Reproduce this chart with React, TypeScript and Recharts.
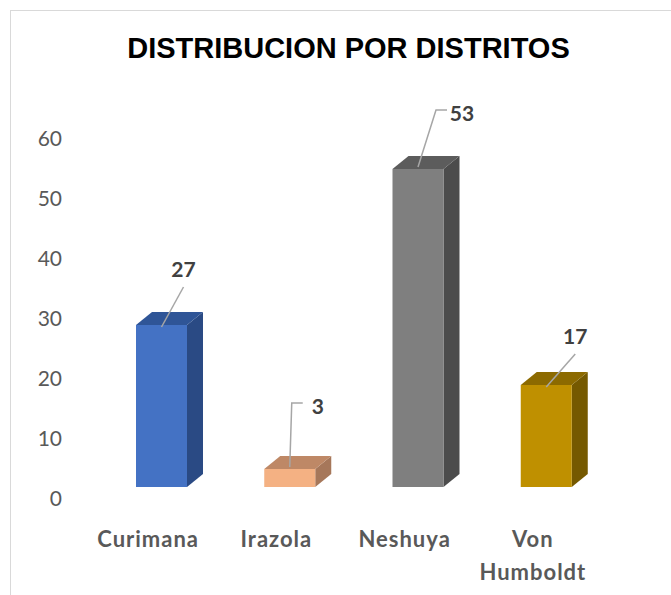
import React from 'react';
import { BarChart, Bar, XAxis, YAxis, Cell, LabelList } from 'recharts';

// Datos
const districts = ['Curimana', 'Irazola', 'Neshuya', 'Von Humboldt'];
const counts = [27, 3, 53, 17];
const yTicks = [0, 10, 20, 30, 40, 50, 60];

// colores: frente, tapa, lado
const frontColors = ['#4472C4', '#F4B183', '#7F7F7F', '#BF9000'];
const topColors = ['#2F5597', '#BE8866', '#5C5C5C', '#8C6A00'];
const sideColors = ['#2A4A84', '#A6775A', '#4C4C4C', '#755900'];

// desplazamiento de las etiquetas respecto a la tapa de la barra
const labelOffsets = [
    { dx: 22, dy: -57, elbow: false },
    { dx: 28, dy: -64, elbow: true },
    { dx: 44, dy: -57, elbow: true },
    { dx: 29, dy: -50, elbow: false },
];

const DEPTH_X = 16;
const DEPTH_Y = 13;
const FONT = 'Lato, "Open Sans", sans-serif';

const chartData = districts.map((name, i) => ({ name, value: counts[i] }));

const Bar3D = (props: any) => {
    const { x, y, width, height, index } = props;
    const w = width;
    const h = height;
    const top = `${x},${y} ${x + DEPTH_X},${y - DEPTH_Y} ${x + w + DEPTH_X},${y - DEPTH_Y} ${x + w},${y}`;
    const side = `${x + w},${y} ${x + w + DEPTH_X},${y - DEPTH_Y} ${x + w + DEPTH_X},${y + h - DEPTH_Y} ${x + w},${y + h}`;
    return (
        <g>
            <polygon points={side} fill={sideColors[index]} />
            <polygon points={top} fill={topColors[index]} />
            <rect x={x} y={y} width={w} height={h} fill={frontColors[index]} />
        </g>
    );
};

const LeaderLabel = (props: any) => {
    const { x, y, width, value, index } = props;
    const off = labelOffsets[index];
    const cx = x + width / 2;
    const lx = cx + off.dx;
    const ly = y + off.dy;
    let path: string;
    if (off.elbow) {
        const hy = ly - 2;
        const leftX = lx - 15;
        const cornerX = leftX - 11;
        path = `M${leftX},${hy} L${cornerX},${hy} L${cx},${y - 2}`;
    } else {
        path = `M${lx},${ly + 19} L${cx},${y + 2}`;
    }
    return (
        <g>
            <path d={path} stroke="#A6A6A6" strokeWidth={1.5} fill="none" />
            <text
                x={lx}
                y={ly}
                textAnchor="middle"
                dominantBaseline="central"
                fontFamily={FONT}
                fontWeight={700}
                fontSize={21}
                fill="#404040"
            >
                {value}
            </text>
        </g>
    );
};

const CategoryTick = (props: any) => {
    const { x, y, payload } = props;
    const words = String(payload.value).split(' ');
    return (
        <g>
            {words.map((wd, i) => (
                <text
                    key={i}
                    x={x - 13}
                    y={y + 43 + i * 33}
                    textAnchor="middle"
                    dominantBaseline="central"
                    fontFamily={FONT}
                    fontWeight={700}
                    fontSize={22}
                    letterSpacing={1}
                    fill="#595959"
                >
                    {wd}
                </text>
            ))}
        </g>
    );
};

const ValueTick = (props: any) => {
    const { y, payload } = props;
    return (
        <text
            x={62}
            y={y + 10}
            textAnchor="end"
            dominantBaseline="central"
            fontFamily={FONT}
            fontSize={21}
            fill="#595959"
        >
            {payload.value}
        </text>
    );
};

const App: React.FC = () => {
    return (
        <div style={{ position: 'absolute', left: 0, top: 0, width: 671, height: 595, background: '#fff' }}>
            <div
                style={{
                    position: 'absolute',
                    left: 10,
                    top: 10,
                    width: 700,
                    height: 700,
                    borderLeft: '1px solid #D9D9D9',
                    borderTop: '1px solid #D9D9D9',
                    boxSizing: 'border-box',
                }}
            />
            <div
                style={{
                    position: 'absolute',
                    left: 0,
                    top: 28,
                    width: 697,
                    textAlign: 'center',
                    fontFamily: '"Liberation Sans", Arial, sans-serif',
                    fontWeight: 700,
                    fontSize: 29,
                    color: '#000',
                    lineHeight: '40px',
                }}
            >
                DISTRIBUCION POR DISTRITOS
            </div>
            <div style={{ position: 'absolute', left: 0, top: 0 }}>
                <BarChart
                    width={671}
                    height={595}
                    data={chartData}
                    margin={{ top: 127, right: 61, bottom: 0, left: 0 }}
                    barCategoryGap={0}
                >
                    <XAxis
                        dataKey="name"
                        axisLine={false}
                        tickLine={false}
                        height={108}
                        interval={0}
                        tick={<CategoryTick />}
                    />
                    <YAxis
                        width={97}
                        domain={[0, 60]}
                        ticks={yTicks}
                        axisLine={false}
                        tickLine={false}
                        tick={<ValueTick />}
                    />
                    <Bar dataKey="value" barSize={51} shape={<Bar3D />} isAnimationActive={false}>
                        {chartData.map((d, i) => (
                            <Cell key={d.name} fill={frontColors[i]} />
                        ))}
                        <LabelList dataKey="value" content={<LeaderLabel />} />
                    </Bar>
                </BarChart>
            </div>
        </div>
    );
};

export default App;
